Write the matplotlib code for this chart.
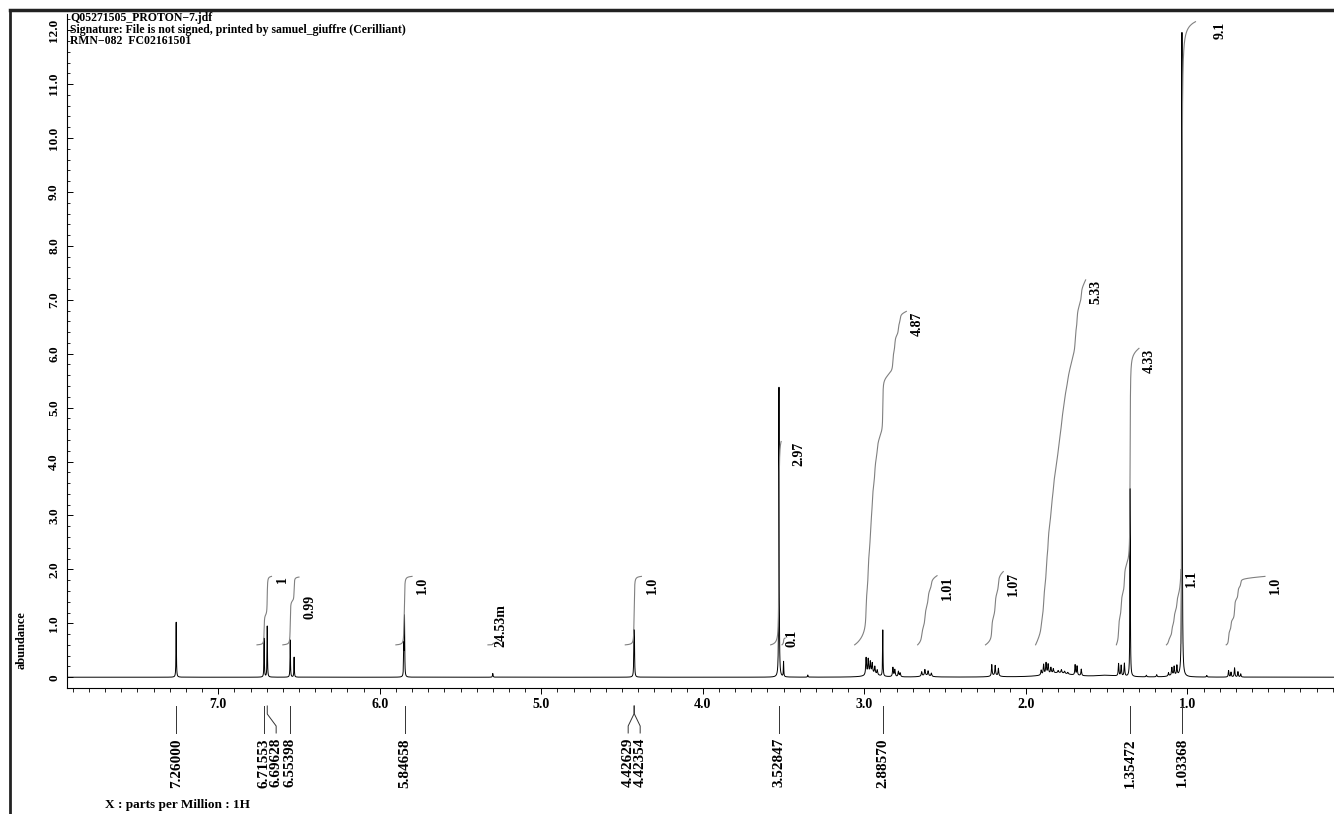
import matplotlib
matplotlib.use("Agg")
import matplotlib.pyplot as plt
import matplotlib.transforms as mtransforms
from matplotlib.lines import Line2D
from matplotlib.ticker import MultipleLocator, FuncFormatter
import numpy as np

# lines: shift (ppm), height (abundance), width (ppm)
peak_ppm = [7.260, 6.7155, 6.6963, 6.5540, 6.5300, 5.8510, 5.8466, 5.300, 4.4263, 4.4235,
            3.5285, 3.500, 3.350,
            2.989, 2.976, 2.963, 2.951, 2.935, 2.920, 2.8857, 2.823, 2.811, 2.789, 2.778,
            2.645, 2.625, 2.605, 2.585,
            2.211, 2.190, 2.170,
            1.905, 1.890, 1.875, 1.862, 1.845, 1.830, 1.800, 1.780, 1.760, 1.740,
            1.695, 1.683, 1.657,
            1.426, 1.410, 1.390, 1.3547, 1.254, 1.190,
            1.117, 1.096, 1.082, 1.065, 1.0337, 0.880,
            0.745, 0.730, 0.708, 0.687, 0.670,
            2.950, 2.620, 2.190, 1.800, 1.500, 1.090]
peak_height = [1.02, 0.72, 0.95, 0.69, 0.37, 0.55, 1.10, 0.07, 0.72, 0.70,
               5.40, 0.28, 0.04,
               0.32, 0.28, 0.22, 0.19, 0.14, 0.09, 0.86, 0.17, 0.13, 0.10, 0.07,
               0.08, 0.11, 0.09, 0.06,
               0.21, 0.18, 0.14,
               0.09, 0.19, 0.21, 0.18, 0.11, 0.08, 0.04, 0.06, 0.04, 0.03,
               0.19, 0.17, 0.12,
               0.23, 0.20, 0.24, 3.50, 0.03, 0.04,
               0.06, 0.14, 0.16, 0.18, 12.0, 0.03,
               0.12, 0.09, 0.17, 0.10, 0.06,
               0.06, 0.03, 0.03, 0.08, 0.03, 0.03]
peak_width = [0.003, 0.003, 0.003, 0.003, 0.003, 0.003, 0.003, 0.004, 0.003, 0.003,
              0.003, 0.003, 0.004,
              0.006, 0.006, 0.006, 0.006, 0.006, 0.006, 0.003, 0.006, 0.006, 0.006, 0.006,
              0.006, 0.006, 0.006, 0.006,
              0.005, 0.005, 0.005,
              0.006, 0.006, 0.006, 0.006, 0.006, 0.006, 0.006, 0.006, 0.006, 0.006,
              0.005, 0.005, 0.005,
              0.005, 0.005, 0.005, 0.003, 0.005, 0.005,
              0.005, 0.005, 0.005, 0.005, 0.003, 0.005,
              0.005, 0.005, 0.005, 0.005, 0.005,
              0.08, 0.06, 0.05, 0.18, 0.15, 0.06]

# integral regions (start ppm, end ppm) and the values printed next to them
int_start = [6.76, 6.60, 5.90, 5.33, 4.48, 3.58, 3.51, 3.06, 2.67, 2.25, 1.94, 1.44, 1.13, 1.04, 0.76]
int_end = [6.67, 6.50, 5.80, 5.29, 4.38, 3.515, 3.49, 2.74, 2.55, 2.14, 1.63, 1.30, 1.04, 0.95, 0.52]
int_value = [1.0, 0.99, 1.0, 0.02453, 1.0, 2.97, 0.1, 4.87, 1.01, 1.07, 5.33, 4.33, 1.1, 9.1, 1.0]
int_text = ["1", "0.99", "1.0", "24.53m", "1.0", "2.97", "0.1", "4.87", "1.01", "1.07",
            "5.33", "4.33", "1.1", "9.1", "1.0"]

# picked peaks
pick_ppm = [7.26000, 6.71553, 6.69628, 6.55398, 5.84658, 4.42629, 4.42354,
            3.52847, 2.88570, 1.35472, 1.03368]

header = ["Q05271505_PROTON\u22127.jdf",
          "Signature: File is not signed, printed by samuel_giuffre (Cerilliant)",
          "RMN\u2212082  FC02161501"]

W, H = 1334, 814
plt.rcParams["font.family"] = ["Liberation Serif", "DejaVu Serif"]
plt.rcParams["font.weight"] = "bold"

ppm = np.arange(0.0, 8.0, 0.0002)
spec = np.zeros_like(ppm)
for p, h, w in zip(peak_ppm, peak_height, peak_width):
    spec += h / (1 + ((ppm - p) / (w / 2)) ** 2)

fig = plt.figure(figsize=(W / 100, H / 100), dpi=100)
ax = fig.add_axes([67 / W, 126 / H, 1 - 67 / W + 0.01, 674 / H])
ax.set_xlim(7.936, 0.010)
ax.set_ylim(-0.2, 12.3)
ax.plot(ppm, spec, color="black", lw=0.7)

# integral curves
int_scale = 1.27
int_base = 0.6
nudge_x = {"9.1": 10, "2.97": 5}
for s, e, v, t in zip(int_start, int_end, int_value, int_text):
    m = (ppm <= s) & (ppm >= e)
    x = ppm[m][::-1]
    y = spec[m][::-1]
    c = np.cumsum(y)
    c = int_base + v * int_scale * c / c[-1]
    ax.plot(x, c, color="#808080", lw=0.8)
    top = c[-1]
    dx = 3 + nudge_x.get(t, 0)
    if v < 0.2:
        ax.annotate(t, (e, 0.56), xytext=(dx - 3, 0), textcoords="offset points",
                    rotation=90, ha="left", va="bottom", fontsize=10)
    else:
        dy = -13 if t == "0.99" else 0
        ax.annotate(t, (e, top), xytext=(dx, dy), textcoords="offset points",
                    rotation=90, ha="left", va="top", fontsize=10)

for side in ["top", "right"]:
    ax.spines[side].set_visible(False)
for side in ["left", "bottom"]:
    ax.spines[side].set_linewidth(0.8)

ax.xaxis.set_major_locator(MultipleLocator(1.0))
ax.xaxis.set_minor_locator(MultipleLocator(0.1))
ax.yaxis.set_major_locator(MultipleLocator(1.0))
ax.yaxis.set_minor_locator(MultipleLocator(0.2))
ax.xaxis.set_major_formatter(FuncFormatter(lambda v, p: "%.1f" % v if 0.5 < v < 7.5 else ""))
ax.yaxis.set_major_formatter(FuncFormatter(lambda v, p: "0" if abs(v) < 1e-9 else ("%.1f" % v if v > 0 else "")))
ax.tick_params(axis="x", which="major", direction="out", length=4, width=0.7, pad=3, labelsize=10)
ax.tick_params(axis="x", which="minor", direction="out", length=3, width=0.6)
ax.tick_params(axis="y", which="major", direction="in", length=4, width=0.7, pad=5, labelsize=9.5)
ax.tick_params(axis="y", which="minor", direction="in", length=2.5, width=0.6)
for lab in ax.get_yticklabels():
    lab.set_rotation(90)
    lab.set_va("center")

# peak pick pointers and labels
trans = mtransforms.blended_transform_factory(ax.transData, fig.transFigure)
px = [ax.transData.transform((p, 0))[0] for p in pick_ppm]
lab_px = []
for i, x in enumerate(px):
    if lab_px and abs(x - px[i - 1]) < 1:
        mid = (x + px[i - 1]) / 2
        lab_px[-1] = mid - 6
        lab_px.append(mid + 6)
    elif lab_px and x - lab_px[-1] < 12:
        lab_px.append(lab_px[-1] + 12)
    else:
        lab_px.append(x)
inv = ax.transData.inverted()


def fy(ypx):
    return 1 - ypx / H


for p, lx in zip(pick_ppm, lab_px):
    lp = inv.transform((lx, 0))[0]
    line = Line2D([p, p, lp, lp], [fy(706), fy(714), fy(726), fy(733)],
                  transform=trans, color="#333333", lw=0.7, clip_on=False)
    fig.add_artist(line)
    fig.text(lp, fy(738), "%.5f" % p, transform=trans, rotation=90,
             ha="center", va="top", fontsize=11)

# frame and texts
fig.add_artist(Line2D([10 / W, 10 / W], [0, 1 - 10 / H], transform=fig.transFigure,
                      color="#222222", lw=2))
fig.add_artist(Line2D([10 / W, 1], [1 - 10 / H, 1 - 10 / H], transform=fig.transFigure,
                      color="#222222", lw=2.5))
fig.text(70 / W, fy(12), "\n".join(header), ha="left", va="top", fontsize=8.5,
         linespacing=0.95)
fig.text(22 / W, fy(640), "abundance", rotation=90, ha="center", va="center", fontsize=9)
fig.text(105 / W, fy(805), "X : parts per Million : 1H", ha="left", va="center", fontsize=9.5)

fig.savefig("out.png", dpi=100)
